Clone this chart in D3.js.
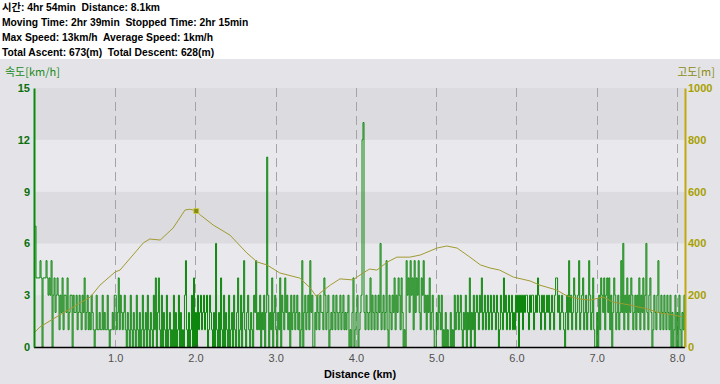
<!DOCTYPE html>
<html><head><meta charset="utf-8">
<script src="https://cdn.jsdelivr.net/npm/d3@7"></script>
<style>
html,body{margin:0;padding:0;background:#ffffff;}
svg{display:block;}
text{white-space:pre;}
</style></head>
<body>
<svg id="chart" width="720" height="384"></svg>
<script>
// ---------- data ----------
const headerLines = [
  "시간: 4hr 54min  Distance: 8.1km",
  "Moving Time: 2hr 39min  Stopped Time: 2hr 15min",
  "Max Speed: 13km/h  Average Speed: 1km/h",
  "Total Ascent: 673(m)  Total Descent: 628(m)"
];
const speedTitle = "속도[km/h]";
const eleTitle = "고도[m]";
const xTitle = "Distance (km)";
const xTicks = [1, 2, 3, 4, 5, 6, 7, 8];
const speedTicks = [0, 3, 6, 9, 12, 15];
const eleTicks = [0, 200, 400, 600, 800, 1000];
const bandEdges = [0, 3, 6, 9, 12, 15];

// speed samples every 0.0125 km, from 0 to 8.1 km
const speedStartKm = 0, speedStepKm = 0.0125;
const speedKmh = [
  7,4,4,4,4,5,4,0,4,4, 4,5,4,3,4,3,5,0,3,4, 2,3,4,3,1,3,2,4,1,3, 3,2,4,1,2,3,3,0,3,2,
  2,3,1,2,3,2,1,3,2,4, 1,2,3,1,2,1,3,2,1,0, 1,3,1,1,2,1,1,3,1,2, 1,1,3,1,0,1,1,2,1,3,
  3,1,2,4,1,3,2,1,2,3, 1,0,2,1,0,3,1,0,2,1, 0,3,1,0,2,0,1,3,0,1, 2,0,3,1,0,2,1,0,3,1,
  4,0,2,4,1,0,3,0,2,1, 0,3,0,1,2,0,1,0,3,0, 2,0,1,3,0,2,0,1,0,3, 5,1,0,2,0,1,3,0,4,0,
  2,0,3,1,2,3,1,2,3,1, 2,3,0,1,3,2,1,0,2,0, 6,1,0,2,0,4,1,0,3,0, 2,1,0,3,0,1,2,0,3,1,
  0,2,4,0,1,3,0,2,5,1, 0,2,3,1,0,2,1,0,3,2, 5,1,2,1,3,0,2,1,3,0, 2,11,3,0,2,1,4,0,2,3,
  1,0,2,1,4,0,3,2,1,4, 2,3,1,2,0,3,1,2,3,1, 2,3,1,2,0,1,5,0,2,3, 1,2,3,1,5,2,3,0,0,2,
  1,3,2,1,3,2,2,1,4,3, 1,2,3,0,1,2,1,3,2,1, 3,2,1,2,3,1,2,3,1,2, 1,2,3,0,1,0,2,4,0,1,
  2,3,0,1,2,3,12,13,2,1, 3,2,1,2,4,1,3,2,1,3, 2,1,3,2,6,1,2,3,1,2, 5,1,0,3,2,1,3,2,4,1,
  3,2,4,3,1,4,2,0,1,0, 5,3,4,2,5,3,4,1,5,2, 4,3,5,2,1,4,3,5,2,3, 1,3,2,4,1,2,3,1,0,0,
  2,1,3,2,1,3,0,1,0,2, 0,1,0,0,2,0,1,0,3,1, 2,3,1,2,3,1,0,2,1,3, 0,2,1,4,0,2,1,3,0,2,
  3,2,1,3,2,4,1,2,3,1, 2,3,1,2,3,1,2,3,2,1, 3,2,0,1,3,2,1,4,2,3, 1,2,3,1,2,3,1,2,1,3,
  2,3,0,3,2,3,1,3,2,3, 3,2,1,3,2,3,3,1,2,3, 2,4,3,2,1,3,2,3,1,2, 3,2,3,1,2,3,2,1,3,4,
  4,2,3,1,2,3,2,1,0,2, 3,1,5,2,3,1,2,4,3,1, 2,3,5,1,2,3,4,1,2,3, 1,2,5,3,1,2,4,1,0,0,
  2,0,3,1,4,3,2,4,1,3, 4,2,4,1,3,0,2,4,3,1, 2,3,1,2,5,2,6,1,3,2, 4,1,3,2,4,3,1,2,3,1,
  3,2,4,1,3,2,4,1,3,6, 2,1,3,4,2,0,1,3,2,1, 3,5,2,1,3,2,1,3,2,1, 3,2,1,3,0,2,0,1,3,0,
  2,0,3,1,0,2,1,3,0
];

const eleKm = [0.00,0.06,0.31,0.69,0.81,1.00,1.06,1.35,1.43,1.56,1.72,1.87,1.93,2.01,2.06,2.22,2.43,2.64,2.77,2.89,3.05,3.30,3.43,3.51,3.55,3.68,3.80,3.96,4.11,4.17,4.26,4.39,4.51,4.67,4.80,5.01,5.13,5.26,5.42,5.55,5.67,5.79,5.96,6.17,6.29,6.50,6.63,6.79,6.92,7.08,7.20,7.41,7.63,7.79,7.95,8.07];
const eleM  = [58,77,124,193,239,290,297,402,417,413,459,529,532,525,510,471,432,363,328,317,286,266,228,193,208,239,263,259,290,301,297,328,347,347,355,382,390,382,347,317,305,297,270,255,239,220,197,185,181,193,174,162,147,131,124,116];

const markerKm = 2.01, markerEle = 525;

// ---------- drawing ----------
const svg = d3.select("#chart");
const W = 720, H = 384;
const L = 35, R = 685, T = 88, B = 347;

svg.append("rect").attr("x",0).attr("y",0).attr("width",W).attr("height",H).attr("fill","#e4e4e8");
svg.append("rect").attr("x",0).attr("y",0).attr("width",W).attr("height",59).attr("fill","#ffffff");

const x = d3.scaleLinear().domain([0, 8.1]).range([L, R]);
const yS = d3.scaleLinear().domain([0, 15]).range([B, T]);
const yE = d3.scaleLinear().domain([0, 1000]).range([B, T]);

// bands
const bandColors = ["#e2e2e6","#e9e9ed","#dcdce0","#e9e9ed","#dcdce0"];
for (let i = 0; i < bandEdges.length - 1; i++) {
  svg.append("rect")
    .attr("x", L).attr("width", R - L)
    .attr("y", yS(bandEdges[i+1])).attr("height", yS(bandEdges[i]) - yS(bandEdges[i+1]))
    .attr("fill", bandColors[i]);
}

// vertical dashed grid
svg.append("g").selectAll("line").data(xTicks).join("line")
  .attr("x1", d => Math.round(x(d)) + 0.5).attr("x2", d => Math.round(x(d)) + 0.5)
  .attr("y1", T).attr("y2", B)
  .attr("stroke", "#a4a4a8").attr("stroke-width", 1)
  .attr("stroke-dasharray", "9,5");

// speed step line
const speedPts = speedKmh.map((v, i) => [speedStartKm + i * speedStepKm, v]);
const speedLine = d3.line().x(d => x(d[0])).y(d => yS(d[1])).curve(d3.curveStepAfter);
svg.append("path").datum(speedPts)
  .attr("d", speedLine)
  .attr("fill", "none").attr("stroke", "#0c860c").attr("stroke-width", 1);

// elevation line
const elePts = eleKm.map((k, i) => [k, eleM[i]]);
const eleLine = d3.line().x(d => x(d[0])).y(d => yE(d[1])).curve(d3.curveLinear);
svg.append("path").datum(elePts)
  .attr("d", eleLine)
  .attr("fill", "none").attr("stroke", "#a09a30").attr("stroke-width", 1);

// marker
svg.append("rect")
  .attr("x", x(markerKm) - 2.5).attr("y", yE(markerEle) - 2.5)
  .attr("width", 5).attr("height", 5)
  .attr("fill", "#8a8a10").attr("stroke", "#d0d040").attr("stroke-width", 0.8);
svg.append("circle").attr("cx", x(markerKm)).attr("cy", B - 1).attr("r", 2)
  .attr("fill", "#2a6a2a");

// bottom axis
const xAxis = d3.axisBottom(x).tickValues(xTicks).tickSize(0).tickPadding(7)
  .tickFormat(d3.format(".1f"));
const gx = svg.append("g").attr("transform", `translate(0,${B})`).call(xAxis);
gx.select(".domain").attr("stroke", "#000").attr("stroke-width", 1.5)
  .attr("d", `M${L - 1},0.5H${R}`);
gx.selectAll("text").attr("fill", "#505050")
  .style("font-family", "Liberation Sans, Arial, sans-serif").style("font-size", "11px");

// left axis
const sAxis = d3.axisLeft(yS).tickValues(speedTicks).tickSize(0).tickPadding(4);
const gs = svg.append("g").attr("transform", `translate(${L - 1},0)`).call(sAxis);
gs.select(".domain").attr("stroke", "#0a8a0a").attr("stroke-width", 2);
gs.selectAll("text").attr("fill", "#0a700a")
  .style("font-family", "Liberation Sans, Arial, sans-serif").style("font-size", "11px")
  .style("font-weight", "bold");

// right axis
const eAxis = d3.axisRight(yE).tickValues(eleTicks).tickSize(0).tickPadding(3)
  .tickFormat(d3.format("d"));
const ge = svg.append("g").attr("transform", `translate(${R},0)`).call(eAxis);
ge.select(".domain").attr("stroke", "#c0a810").attr("stroke-width", 2);
ge.selectAll("text").attr("fill", "#a8a000")
  .style("font-family", "Liberation Sans, Arial, sans-serif").style("font-size", "11px")
  .style("font-weight", "bold");

// titles
svg.append("text").attr("x", 5).attr("y", 76).text(speedTitle)
  .attr("fill", "#1a8a1a").style("font-family", "Noto Sans CJK KR, Liberation Sans, sans-serif")
  .style("font-size", "11px");
svg.append("text").attr("x", 715).attr("y", 76).attr("text-anchor", "end").text(eleTitle)
  .attr("fill", "#8a8a10").style("font-family", "Noto Sans CJK KR, Liberation Sans, sans-serif")
  .style("font-size", "11px");
svg.append("text").attr("x", 360).attr("y", 378).attr("text-anchor", "middle").text(xTitle)
  .attr("fill", "#000").style("font-family", "Liberation Sans, Arial, sans-serif")
  .style("font-size", "11px").style("font-weight", "bold");

// header
svg.append("g").selectAll("text").data(headerLines).join("text")
  .attr("x", 2).attr("y", (d, i) => 11 + i * 15)
  .attr("xml:space", "preserve")
  .text(d => d)
  .attr("fill", "#000")
  .style("font-family", "Liberation Sans, Noto Sans CJK KR, sans-serif")
  .style("font-size", "10.3px").style("font-weight", "bold");
</script>
</body></html>
